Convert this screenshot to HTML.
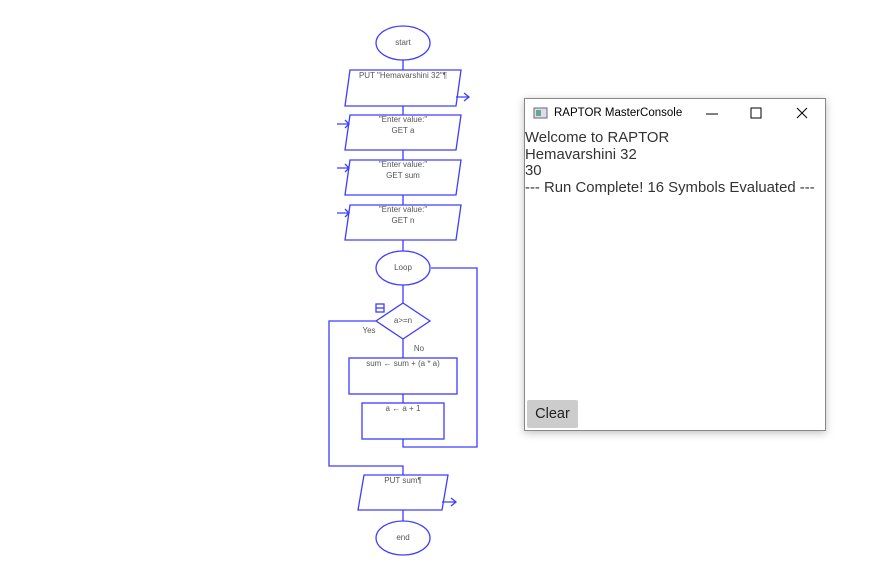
<!DOCTYPE html>
<html><head><style>
body{margin:0;width:886px;height:569px;background:#fff;overflow:hidden;position:relative;font-family:"Liberation Sans",sans-serif}
svg{position:absolute;left:0;top:0}
.win{position:absolute;left:524px;top:98px;width:300px;height:331px;border:1px solid #888;background:#fff;box-shadow:0 2px 8px rgba(0,0,0,.25)}
.title{position:absolute;left:29px;top:8px;font-size:11.5px;color:#000}
.con{position:absolute;left:0;top:31px;font-size:14.9px;line-height:16.5px;color:#333}
.clear{position:absolute;left:2px;top:301px;width:51px;height:28px;background:#ccc;border-radius:2px;font-size:14.5px;line-height:28px;text-align:center;color:#222}
</style></head><body>
<svg width="886" height="569" viewBox="0 0 886 569" font-family="Liberation Sans, sans-serif" font-size="8" fill="none">
<g stroke="#3d3dff" stroke-width="1.3">
<ellipse cx="403" cy="43" rx="27" ry="17"/>
<polygon points="350,70 461,70 456,106 345,106"/>
<polygon points="350,115 461,115 456,150 345,150"/>
<polygon points="350,160 461,160 456,195 345,195"/>
<polygon points="350,205 461,205 456,240 345,240"/>
<ellipse cx="403" cy="268" rx="27" ry="17"/>
<polygon points="403,303 430,321 403,339 376,321"/>
<rect x="349" y="358" width="108" height="36"/>
<rect x="362" y="403" width="82" height="36"/>
<polygon points="364,475 448,475 442,510 358,510"/>
<ellipse cx="403" cy="538" rx="27" ry="17"/>
<path d="M403 60V70M403 106V115M403 150V160M403 195V205M403 240V251M403 285V303M403 339V358M403 394V403M403 439V447H477V268H431M376 321H329V466H403V475M403 510V521"/>
<path d="M456 97H469M464 93L469 97L464 101M337 124H349M345 120L349 124L345 128M337 168H349M345 164L349 168L345 172M337 213H349M345 209L349 213L345 217M442 502H456M451 498L456 502L451 506"/>
<rect x="376" y="304" width="8" height="8"/><path d="M376 308H384"/>
</g>
<g fill="#555" text-anchor="middle">
<text x="403" y="45">start</text>
<text x="403" y="78">PUT "Hemavarshini 32"¶</text>
<text x="403" y="122">"Enter value:"</text><text x="403" y="133">GET a</text>
<text x="403" y="167">"Enter value:"</text><text x="403" y="178">GET sum</text>
<text x="403" y="212">"Enter value:"</text><text x="403" y="223">GET n</text>
<text x="403" y="270">Loop</text>
<text x="403" y="323">a&gt;=n</text>
<text x="369" y="333">Yes</text>
<text x="419" y="351">No</text>
<text x="403" y="366">sum ← sum + (a * a)</text>
<text x="403" y="411">a ← a + 1</text>
<text x="403" y="483">PUT sum¶</text>
<text x="403" y="540">end</text>
</g>
</svg>
<div class="win">
<svg width="300" height="30" style="left:0;top:0">
<rect x="9" y="9" width="13" height="10" fill="#dde" stroke="#667"/><rect x="11" y="11" width="5" height="6" fill="#6a8"/>
<path d="M181 15H193" stroke="#000"/>
<rect x="226" y="9" width="10" height="10" stroke="#000" fill="none"/>
<path d="M272 9L282 19M282 9L272 19" stroke="#000"/>
</svg>
<div class="title">RAPTOR MasterConsole</div>
<div class="con">Welcome to RAPTOR<br>Hemavarshini 32<br>30<br>--- Run Complete! 16 Symbols Evaluated ---</div>
<div class="clear">Clear</div>
</div>
</body></html>
